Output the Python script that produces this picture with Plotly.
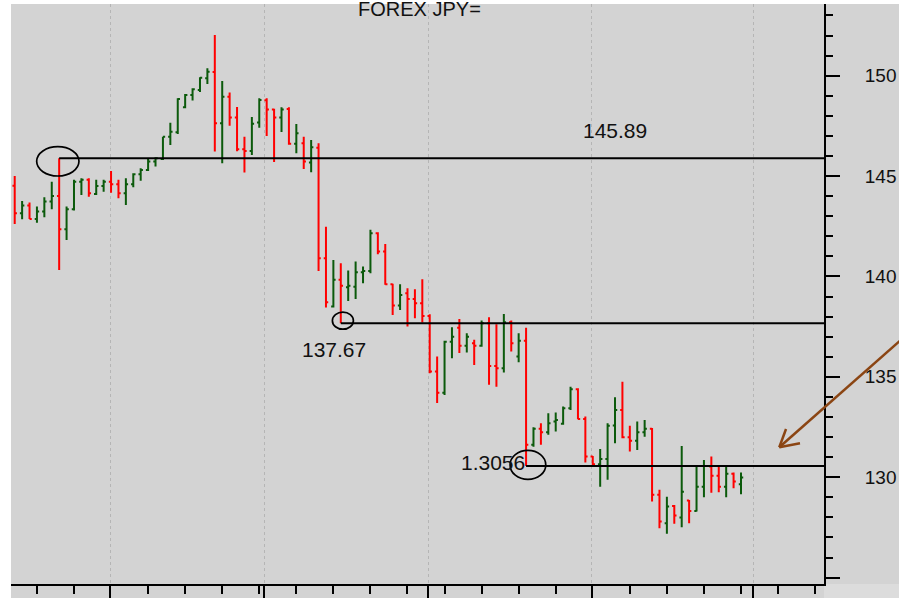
import plotly.graph_objects as go

# ---- data (daily bars, index = trading day) ----
opens = [144.52, 143.15, 143.53, 142.86, 143.23, 143.73, 144.01, 142.35, 143.35, 144.72,
         144.81, 144.11, 144.51, 144.72, 144.59, 144.14, 144.59, 145.09, 145.30, 145.72,
         145.85, 146.96, 147.18, 148.43, 149.04, 149.29, 149.87, 150.18, 147.63, 148.95,
         147.92, 146.33, 146.25, 147.67, 148.77, 148.31, 147.92, 148.34, 146.61, 146.63,
         145.67, 146.41, 140.91, 138.50, 139.83, 139.46, 139.49, 140.21, 140.27, 142.15,
         141.24, 139.61, 138.55, 139.16, 138.88, 138.67, 138.03, 135.26, 134.21, 136.75,
         137.45, 136.55, 136.67, 136.55, 137.67, 135.54, 135.43, 137.72, 136.01, 136.80,
         131.61, 132.41, 132.24, 132.77, 132.66, 133.44, 134.38, 132.90, 131.03, 130.65,
         130.91, 132.57, 133.35, 131.99, 131.82, 132.24, 132.41, 129.12, 127.71, 128.57,
         127.99, 128.84, 128.32, 129.53, 130.53, 130.07, 129.53, 130.17, 129.65]
highs = [145.00, 143.76, 143.68, 143.48, 143.94, 144.72, 145.89, 143.48, 144.81, 144.89,
         144.89, 144.81, 144.81, 145.25, 144.81, 144.89, 145.14, 145.39, 145.89, 145.94,
         146.96, 147.66, 148.87, 149.09, 149.37, 149.92, 150.37, 152.03, 149.74, 149.16,
         148.44, 146.96, 147.94, 148.87, 148.87, 148.35, 148.43, 148.43, 147.59, 146.96,
         146.80, 146.63, 142.48, 140.82, 140.66, 140.29, 140.74, 140.49, 142.32, 142.20,
         141.62, 139.63, 139.61, 139.41, 139.36, 139.86, 138.12, 136.01, 136.80, 137.47,
         137.88, 137.17, 136.84, 137.80, 137.97, 137.62, 138.13, 137.80, 137.17, 137.45,
         132.49, 132.69, 133.19, 133.22, 133.52, 134.51, 134.43, 133.02, 131.05, 131.41,
         132.69, 133.98, 134.76, 132.56, 132.77, 132.85, 132.45, 129.37, 129.03, 128.62,
         131.56, 128.87, 130.61, 130.86, 131.03, 130.61, 130.61, 130.23, 130.23]
lows = [142.61, 142.85, 142.86, 142.68, 142.95, 143.35, 140.32, 141.82, 143.28, 144.06,
        143.97, 144.06, 144.22, 144.17, 143.89, 143.56, 144.44, 144.76, 145.25, 145.47,
        145.80, 146.55, 147.10, 148.38, 148.76, 149.19, 149.59, 146.22, 145.64, 147.50,
        146.24, 145.18, 146.05, 147.40, 147.00, 145.70, 147.20, 146.56, 146.14, 145.35,
        145.19, 140.27, 138.45, 138.45, 137.67, 138.78, 138.87, 139.66, 140.16, 141.11,
        139.58, 138.08, 138.33, 137.50, 137.92, 137.70, 135.18, 133.70, 134.10, 135.93,
        136.18, 136.21, 135.59, 136.50, 134.60, 134.51, 135.21, 136.26, 135.73, 130.56,
        131.52, 131.61, 132.11, 132.27, 132.61, 133.35, 132.89, 130.73, 130.61, 129.53,
        129.87, 131.69, 131.94, 131.28, 131.36, 132.02, 128.79, 127.46, 127.18, 127.68,
        127.51, 127.71, 128.29, 129.00, 129.23, 129.25, 129.00, 129.45, 129.15]
closes = [143.15, 143.53, 142.86, 143.23, 143.73, 144.01, 142.35, 143.35, 144.72, 144.81,
          144.14, 144.51, 144.72, 144.59, 144.14, 144.59, 145.09, 145.30, 145.72, 145.89,
          146.96, 147.21, 148.84, 149.04, 149.32, 149.90, 150.20, 147.63, 148.95, 147.92,
          146.34, 146.25, 147.60, 148.79, 148.31, 147.92, 148.31, 146.61, 147.13, 145.72,
          146.43, 140.91, 138.72, 139.83, 139.53, 139.53, 140.21, 140.27, 142.15, 141.24,
          139.61, 138.55, 139.08, 138.88, 138.67, 138.03, 135.26, 134.21, 136.75, 137.00,
          136.55, 137.00, 136.55, 137.67, 135.54, 135.43, 137.72, 136.67, 136.80, 131.61,
          132.41, 132.24, 132.69, 132.85, 133.44, 134.38, 132.90, 131.03, 130.65, 130.91,
          132.56, 133.35, 131.99, 131.82, 132.24, 132.41, 129.12, 127.79, 128.54, 128.09,
          129.28, 128.32, 129.53, 130.56, 130.07, 129.53, 130.17, 129.78, 129.98]
bar_idx = list(range(len(opens)))

# horizontal support/resistance levels, starting bar, and their labels
levels = [145.89, 137.67, 130.56]
level_start = [6, 44, 69]
level_labels = ["145.89", "137.67", "1.3056"]
label_pos = [(80.94, 147.25), (43.12, 136.38), (64.48, 130.71)]

# axis ticks
y_major = [125, 130, 135, 140, 145, 150]
y_labels = ["", "130", "135", "140", "145", "150"]
month_ticks = [12.86, 33.68, 55.82, 77.87, 99.68]
week_ticks = [3, 8, 18, 23, 28, 33, 38, 43, 48, 53, 58, 63, 68, 73, 83, 88, 93, 98, 103, 108]

title_text = "FOREX JPY="

X_RANGE = [-0.5, 109.2]
Y_RANGE = [124.68, 153.57]
FONT = "Liberation Sans, Arial, sans-serif"
GRAY = "#d3d3d3"

fig = go.Figure()
fig.add_trace(go.Ohlc(
    x=bar_idx, open=opens, high=highs, low=lows, close=closes,
    increasing=dict(line=dict(color="#0b5a0b", width=2)),
    decreasing=dict(line=dict(color="#ff0000", width=2)),
    tickwidth=0.3, hoverinfo="skip", showlegend=False,
))

for lvl, start in zip(levels, level_start):
    fig.add_trace(go.Scatter(x=[start, X_RANGE[1]], y=[lvl, lvl], mode="lines",
                             line=dict(color="black", width=2), hoverinfo="skip",
                             showlegend=False, cliponaxis=True))

shapes = []
# circles around the level anchor points (pixel-sized, anchored in data coords)
ellipse_px = [(-22.5, 19.8, -17.8, 11.5), (-8.4, 12.6, -6.0, 11.0), (-16.0, 19.7, -13.5, 15.5)]
for (lvl, start), (ex0, ex1, ey0, ey1) in zip(zip(levels, level_start), ellipse_px):
    shapes.append(dict(type="circle", xref="x", yref="y", xsizemode="pixel", ysizemode="pixel",
                       xanchor=start, yanchor=lvl, x0=ex0, x1=ex1, y0=ey0, y1=ey1,
                       line=dict(color="black", width=1.7), layer="above"))

# background patches outside plot area (right and bottom are gray in the picture)
shapes.append(dict(type="rect", xref="paper", yref="paper", x0=1, x1=1.12, y0=-0.05, y1=1,
                   fillcolor=GRAY, line=dict(width=0), layer="below"))
shapes.append(dict(type="rect", xref="paper", yref="paper", x0=0, x1=1, y0=-0.05, y1=0,
                   fillcolor=GRAY, line=dict(width=0), layer="below"))
shapes.append(dict(type="rect", xref="paper", yref="paper", x0=1, x1=1.12, y0=-0.05, y1=0,
                   fillcolor="#dcdcdc", line=dict(width=0), layer="below"))

# brown arrow
BROWN = "#8b4513"
tip = (0.9450, 0.2357)
for (sx, sy) in [(1.1058, 0.4345), (0.9533, 0.2672), (0.9705, 0.2426)]:
    shapes.append(dict(type="line", xref="paper", yref="paper", x0=sx, y0=sy, x1=tip[0], y1=tip[1],
                       line=dict(color=BROWN, width=2.5)))

annotations = []
for txt, (ax, ay) in zip(level_labels, label_pos):
    annotations.append(dict(x=ax, y=ay, xref="x", yref="y", text=txt, showarrow=False,
                            xanchor="center", yanchor="middle",
                            font=dict(family=FONT, size=21, color="#111111")))
annotations.append(dict(x=0.502, y=0.991, xref="paper", yref="paper", text=title_text,
                        showarrow=False, xanchor="center", yanchor="middle",
                        font=dict(family=FONT, size=20, color="#111111")))

fig.update_layout(
    width=899, height=598,
    margin=dict(l=11, r=75, t=4, b=14, pad=0, autoexpand=False),
    paper_bgcolor="white", plot_bgcolor=GRAY,
    showlegend=False,
    shapes=shapes, annotations=annotations,
    xaxis=dict(range=X_RANGE, rangeslider=dict(visible=False), showline=True, automargin=False,
               linecolor="black", linewidth=2, mirror=False, zeroline=False,
               tickmode="array", tickvals=month_ticks, ticktext=[""] * len(month_ticks),
               ticks="outside", ticklen=14, tickwidth=2, tickcolor="black",
               showgrid=True, gridcolor="#b5b5b5", griddash="dot", gridwidth=1,
               minor=dict(tickmode="array", tickvals=week_ticks, ticks="outside",
                          ticklen=8, tickwidth=2, tickcolor="black", showgrid=False),
               fixedrange=True),
    yaxis=dict(range=Y_RANGE, side="right", showline=True, linecolor="black", linewidth=2,
               zeroline=False, showgrid=False, automargin=False,
               tickmode="array", tickvals=y_major, ticktext=y_labels,
               ticks="outside", ticklen=14, tickwidth=2, tickcolor="black",
               ticklabelstandoff=21,
               tickfont=dict(family=FONT, size=19, color="#111111"),
               minor=dict(dtick=1, tick0=0, ticks="outside", ticklen=7, tickwidth=2,
                          tickcolor="black", showgrid=False),
               fixedrange=True),
)

fig.write_html("out.html", config={"displayModeBar": False},
               post_script="document.body.style.margin='0';document.body.style.overflow='hidden';")
